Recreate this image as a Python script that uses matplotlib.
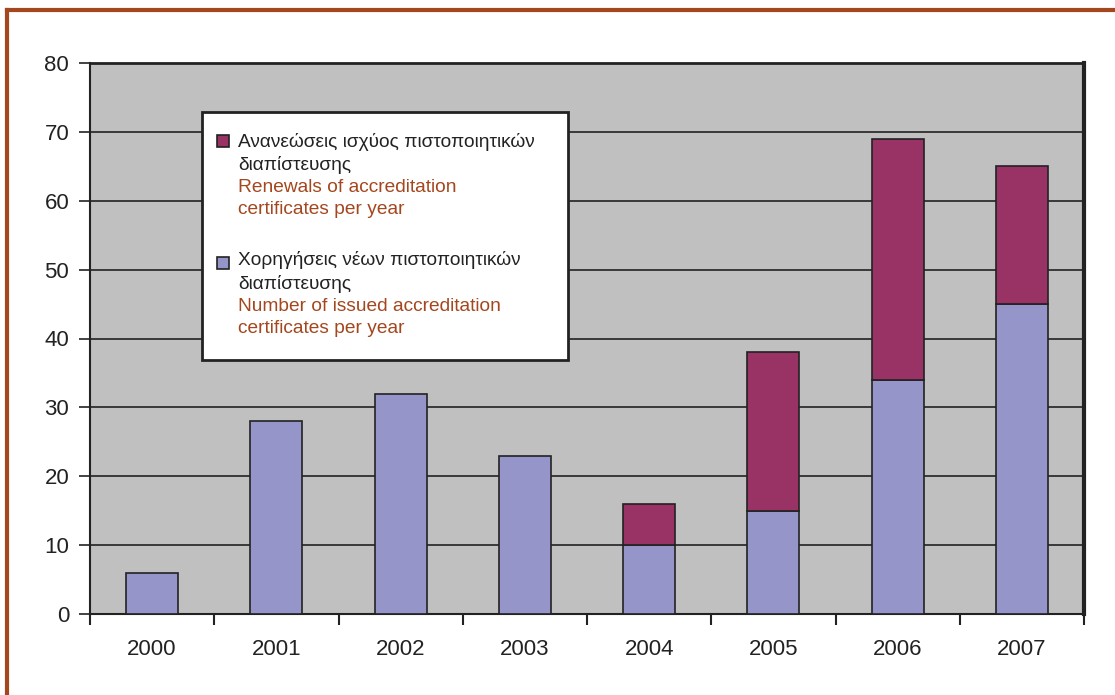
import matplotlib
matplotlib.use("Agg")
import matplotlib.pyplot as plt
from matplotlib.patches import Rectangle
import numpy as np

years = ["2000", "2001", "2002", "2003", "2004", "2005", "2006", "2007"]
new_certs = [6, 28, 32, 23, 10, 15, 34, 45]
renewals = [0, 0, 0, 0, 6, 23, 35, 20]
y_ticks = [0, 10, 20, 30, 40, 50, 60, 70, 80]

legend_gr = [["Ανανεώσεις ισχύος πιστοποιητικών", "διαπίστευσης"],
             ["Χορηγήσεις νέων πιστοποιητικών", "διαπίστευσης"]]
legend_en = [["Renewals of accreditation", "certificates per year"],
             ["Number of issued accreditation", "certificates per year"]]

c_new = "#9595C9"
c_ren = "#993366"
c_bg = "#C0C0C0"
c_brown = "#A4461E"

plt.rcParams['font.family'] = ['Liberation Sans', 'DejaVu Sans']

fig = plt.figure(figsize=(11.15, 6.95), dpi=100)
ax = fig.add_axes([90/1115, 1-614/695, (1084-90)/1115, (614-63)/695])
ax.set_facecolor(c_bg)

x = np.arange(len(years))
w = 0.42
ax.bar(x, new_certs, w, color=c_new, edgecolor="#222222", linewidth=1.2, zorder=3)
ren_idx = [i for i, v in enumerate(renewals) if v > 0]
ax.bar(x[ren_idx], [renewals[i] for i in ren_idx], w,
       bottom=[new_certs[i] for i in ren_idx],
       color=c_ren, edgecolor="#222222", linewidth=1.2, zorder=3)

ax.set_xlim(-0.5, len(years) - 0.5)
ax.set_ylim(0, 80)
ax.set_yticks(y_ticks)
ax.set_yticklabels([str(v) for v in y_ticks], fontsize=16, color="#222222")
ax.yaxis.grid(True, color="#222222", linewidth=1.2, zorder=1)
ax.set_axisbelow(True)

ax.set_xticks(x)
ax.set_xticklabels(years, fontsize=16, color="#222222")
ax.tick_params(axis="x", length=0, pad=18)
ax.set_xticks(np.arange(-0.5, len(years)), minor=True)
ax.tick_params(axis="x", which="minor", length=8, width=1.5, color="#222222", direction="out")
ax.tick_params(axis="y", length=8, width=1.2, color="#222222", pad=7)

for s in ["left", "bottom", "top"]:
    ax.spines[s].set_color("#222222")
    ax.spines[s].set_linewidth(1.5)
ax.spines["right"].set_color("#222222")
ax.spines["right"].set_linewidth(3)
ax.spines["top"].set_linewidth(2)

def ay(py):
    return (614-py)/551

def axx(px):
    return (px-90)/994

# Legend box (manual)
ax.add_patch(Rectangle((axx(202), ay(360)), axx(568)-axx(202), ay(112)-ay(360),
                       transform=ax.transAxes, facecolor="white", edgecolor="#222222",
                       linewidth=2, zorder=5))

sq = 12
groups = [(c_ren, 135, [147, 170], [192, 214]), (c_new, 257, [265, 289], [311, 333])]
for i, (col, top, ygr, yen) in enumerate(groups):
    ax.add_patch(Rectangle((axx(217), ay(top+sq)), sq/994, sq/551, transform=ax.transAxes,
                           facecolor=col, edgecolor="#222222", linewidth=1.2, zorder=6))
    for txt, yy in zip(legend_gr[i], ygr):
        ax.text(axx(238), ay(yy), txt, transform=ax.transAxes, fontsize=13.8,
                color="#222222", va="baseline", ha="left", zorder=7)
    for txt, yy in zip(legend_en[i], yen):
        ax.text(axx(238), ay(yy), txt, transform=ax.transAxes, fontsize=13.8,
                color=c_brown, va="baseline", ha="left", zorder=7)

# Outer decorative frame (top and left visible)
fig.add_artist(plt.Line2D([6.5/1115, 1.0], [1-9.5/695, 1-9.5/695], color=c_brown, linewidth=3,
                          transform=fig.transFigure))
fig.add_artist(plt.Line2D([6.5/1115, 6.5/1115], [0, 1-9.5/695], color=c_brown, linewidth=3,
                          transform=fig.transFigure))

fig.savefig("out.png", dpi=100)
